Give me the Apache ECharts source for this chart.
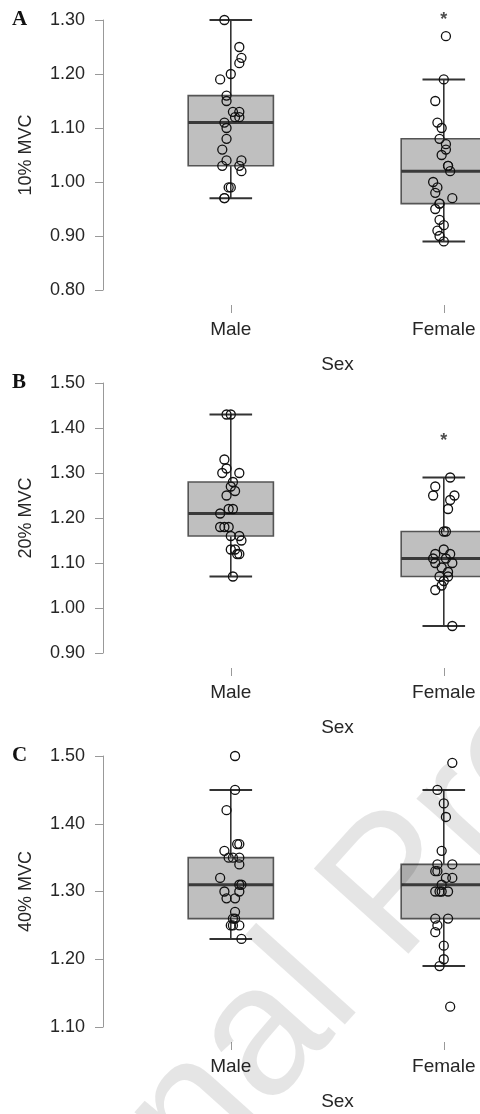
<!DOCTYPE html>
<html>
<head>
<meta charset="utf-8">
<script src="https://cdn.jsdelivr.net/npm/echarts@6/dist/echarts.min.js"></script>
<style>
  html, body { margin: 0; padding: 0; background: #fff; }
  #chart { width: 480px; height: 1114px; }
</style>
</head>
<body>
<div id="chart"></div>
<script>
// categories
var sexLabels = ['Male', 'Female'];

// box stats per group: [lower whisker, Q1, median, Q3, upper whisker]
var box10 = [[0.97, 1.03, 1.11, 1.16, 1.30], [0.89, 0.96, 1.02, 1.08, 1.19]];
var box20 = [[1.07, 1.16, 1.21, 1.28, 1.43], [0.96, 1.07, 1.11, 1.17, 1.29]];
var box40 = [[1.23, 1.26, 1.31, 1.35, 1.45], [1.19, 1.26, 1.31, 1.34, 1.45]];

// raw points: [value, horizontal jitter in category units]
var male10 = [[1.30, -0.03], [1.25, 0.04], [1.23, 0.05], [1.22, 0.04], [1.20, 0], [1.19, -0.05],
  [1.16, -0.02], [1.15, -0.02], [1.13, 0.01], [1.13, 0.04], [1.12, 0.02], [1.12, 0.04],
  [1.11, -0.03], [1.10, -0.02], [1.08, -0.02], [1.06, -0.04], [1.04, -0.02], [1.04, 0.05],
  [1.03, -0.04], [1.03, 0.04], [1.02, 0.05], [0.99, 0], [0.99, -0.01], [0.97, -0.03], [0.97, -0.03]];
var female10 = [[1.27, 0.01], [1.19, 0], [1.15, -0.04], [1.11, -0.03], [1.10, -0.01], [1.08, -0.02],
  [1.07, 0.01], [1.06, 0.01], [1.05, -0.01], [1.03, 0.02], [1.03, 0.02], [1.02, 0.03],
  [1.00, -0.05], [0.99, -0.03], [0.98, -0.04], [0.97, 0.04], [0.96, -0.02], [0.96, -0.02],
  [0.95, -0.04], [0.93, -0.02], [0.92, 0], [0.91, -0.03], [0.90, -0.02], [0.89, 0]];

var male20 = [[1.43, -0.02], [1.43, 0], [1.33, -0.03], [1.31, -0.02], [1.30, -0.04], [1.30, 0.04],
  [1.28, 0.01], [1.27, 0], [1.26, 0.02], [1.25, -0.02], [1.22, -0.01], [1.22, 0.01],
  [1.21, -0.05], [1.18, -0.05], [1.18, -0.03], [1.18, -0.01], [1.16, 0], [1.16, 0.04],
  [1.15, 0.05], [1.13, 0], [1.13, 0.02], [1.12, 0.03], [1.12, 0.04], [1.07, 0.01]];
var female20 = [[1.29, 0.03], [1.27, -0.04], [1.25, -0.05], [1.25, 0.05], [1.24, 0.03], [1.22, 0.02],
  [1.17, 0], [1.17, 0.01], [1.13, 0], [1.12, -0.04], [1.12, 0.03], [1.11, 0.01],
  [1.11, -0.05], [1.10, -0.04], [1.10, 0.04], [1.09, -0.01], [1.08, 0.02], [1.07, -0.02],
  [1.07, 0.02], [1.06, 0], [1.05, -0.01], [1.04, -0.04], [0.96, 0.04]];

var male40 = [[1.50, 0.02], [1.45, 0.02], [1.42, -0.02], [1.37, 0.03], [1.37, 0.04], [1.36, -0.03],
  [1.35, -0.01], [1.35, 0.01], [1.35, 0.04], [1.34, 0.04], [1.32, -0.05], [1.31, 0.04],
  [1.31, 0.05], [1.30, -0.03], [1.30, 0.04], [1.29, -0.02], [1.29, 0.02], [1.27, 0.02],
  [1.26, 0.01], [1.26, 0.02], [1.25, 0], [1.25, 0.04], [1.25, 0.01], [1.23, 0.05]];
var female40 = [[1.49, 0.04], [1.45, -0.03], [1.43, 0], [1.41, 0.01], [1.36, -0.01], [1.34, -0.03],
  [1.34, 0.04], [1.33, -0.04], [1.33, -0.03], [1.32, 0.01], [1.32, 0.04], [1.31, -0.01],
  [1.30, -0.04], [1.30, -0.02], [1.30, -0.01], [1.30, 0.02], [1.26, -0.04], [1.26, 0.02],
  [1.25, -0.03], [1.24, -0.04], [1.22, 0], [1.20, 0], [1.19, -0.02], [1.13, 0.03]];

// significance markers above the Female group (null = none)
var sig10 = 1.30;
var sig20 = 1.37;
var sig40 = null;

// y axis settings
var yMin = [0.8, 0.9, 1.1];
var yMax = [1.3, 1.5, 1.5];
var yNames = ['10% MVC', '20% MVC', '40% MVC'];
var panelLetters = ['A', 'B', 'C'];

var FONT = '"Liberation Sans", Arial, sans-serif';
var tops = [20, 383, 756];
var heights = [270, 270, 271];
var boxes = [box10, box20, box40];
var males = [male10, male20, male40];
var females = [female10, female20, female40];
var sigs = [sig10, sig20, sig40];

function renderBox(params, api) {
    var x = api.value(0);
    var lo = api.coord([x, api.value(1)]);
    var q1 = api.coord([x, api.value(2)]);
    var med = api.coord([x, api.value(3)]);
    var q3 = api.coord([x, api.value(4)]);
    var hi = api.coord([x, api.value(5)]);
    var w = api.size([0.4, 0])[0];
    var cw = w / 2;
    var cx = med[0];
    var lineStyle = { stroke: '#333', lineWidth: 1.6 };
    return {
        type: 'group',
        children: [
            { type: 'line', shape: { x1: cx, y1: q3[1], x2: cx, y2: hi[1] }, style: lineStyle },
            { type: 'line', shape: { x1: cx, y1: q1[1], x2: cx, y2: lo[1] }, style: lineStyle },
            { type: 'line', shape: { x1: cx - cw / 2, y1: hi[1], x2: cx + cw / 2, y2: hi[1] }, style: { stroke: '#333', lineWidth: 2 } },
            { type: 'line', shape: { x1: cx - cw / 2, y1: lo[1], x2: cx + cw / 2, y2: lo[1] }, style: { stroke: '#333', lineWidth: 2 } },
            { type: 'rect', shape: { x: cx - w / 2, y: q3[1], width: w, height: q1[1] - q3[1] },
              style: { fill: '#bfbfbf', stroke: '#555', lineWidth: 1.6 } },
            { type: 'line', shape: { x1: cx - w / 2, y1: med[1], x2: cx + w / 2, y2: med[1] },
              style: { stroke: '#3a3a3a', lineWidth: 3 } }
        ]
    };
}

var grids = [], xAxes = [], yAxes = [], series = [], graphics = [];
for (var i = 0; i < 3; i++) {
    // the original plot runs past the right edge, so the x range is cut at 2.17
    grids.push({ left: 103, right: 0, top: tops[i], height: heights[i] });
    xAxes.push({
        type: 'value', gridIndex: i, min: 0.4, max: 2.17, offset: 15,
        name: 'Sex', nameLocation: 'middle', nameGap: 50,
        nameTextStyle: { fontFamily: FONT, fontSize: 19, color: '#262626', padding: [0, 0, 0, 92] },
        axisLine: { show: false },
        splitLine: { show: false },
        axisTick: { show: true, customValues: [1, 2], length: 8, lineStyle: { color: '#999' } },
        axisLabel: {
            customValues: [1, 2], margin: 15, fontFamily: FONT, fontSize: 19, color: '#262626',
            formatter: function (v) { return sexLabels[Math.round(v) - 1]; }
        }
    });
    yAxes.push({
        type: 'value', gridIndex: i, min: yMin[i], max: yMax[i], interval: 0.1,
        name: yNames[i], nameLocation: 'middle', nameRotate: 90, nameGap: 68,
        nameTextStyle: { fontFamily: FONT, fontSize: 18, color: '#262626' },
        axisLine: { show: true, lineStyle: { color: '#999', width: 1 } },
        axisTick: { show: true, length: 8, lineStyle: { color: '#999' } },
        splitLine: { show: false },
        axisLabel: {
            margin: 18, fontFamily: FONT, fontSize: 18, color: '#262626',
            formatter: function (v) { return v.toFixed(2); }
        }
    });
    series.push({
        type: 'custom', xAxisIndex: i, yAxisIndex: i, renderItem: renderBox, z: 2, clip: false,
        data: boxes[i].map(function (b, k) { return [k + 1].concat(b); })
    });
    var pts = males[i].map(function (p) { return [1 + p[1], p[0]]; })
        .concat(females[i].map(function (p) { return [2 + p[1], p[0]]; }));
    series.push({
        type: 'scatter', xAxisIndex: i, yAxisIndex: i, z: 3, clip: false,
        symbol: 'circle', symbolSize: 9,
        itemStyle: { color: 'rgba(0,0,0,0)', borderColor: '#111', borderWidth: 1.3, opacity: 1 },
        data: pts
    });
    if (sigs[i] !== null) {
        series.push({
            type: 'scatter', xAxisIndex: i, yAxisIndex: i, z: 4, symbolSize: 0, clip: false,
            label: { show: true, position: 'inside', formatter: '*', fontFamily: FONT,
                     fontSize: 18, color: '#222', fontWeight: 'bold' },
            data: [[2, sigs[i]]]
        });
    }
    graphics.push({
        type: 'text', left: 12, top: tops[i] - 11,
        style: { text: panelLetters[i], font: 'bold 21px "Liberation Serif", serif', fill: '#111' }
    });
}

// "Journal Pre-proof" watermark across the figure
graphics.push({
    type: 'text', x: -80, y: 1420, rotation: 48 * Math.PI / 180, z: 100,
    style: { text: 'Journal Pre-proof', font: '185px "Liberation Sans", Arial, sans-serif',
             fill: 'rgba(0,0,0,0.1)', verticalAlign: 'middle', align: 'left' }
});

var chart = echarts.init(document.getElementById('chart'), null, { renderer: 'canvas' });
chart.setOption({
    animation: false,
    backgroundColor: '#fff',
    grid: grids,
    xAxis: xAxes,
    yAxis: yAxes,
    series: series,
    graphic: graphics
});
</script>
</body>
</html>
